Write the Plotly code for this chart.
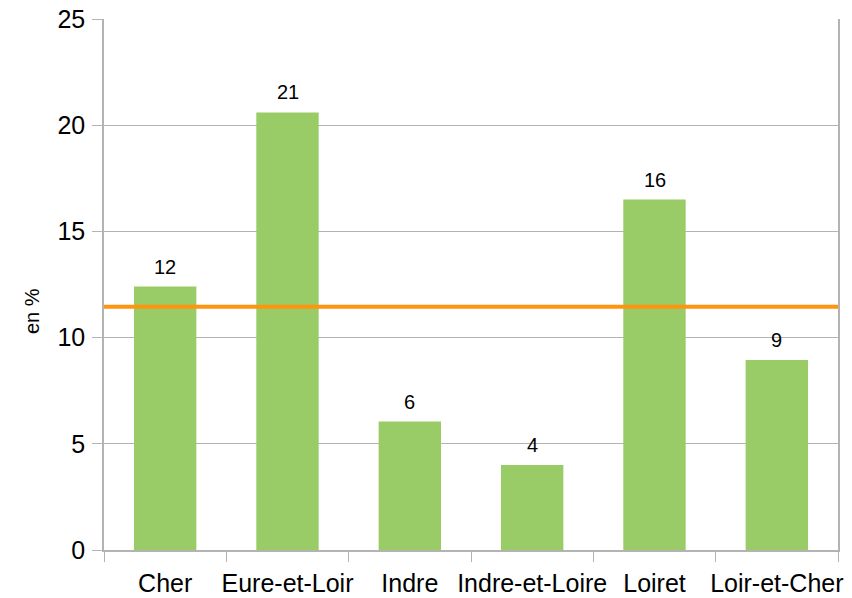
import plotly.graph_objects as go

categories = ["Cher", "Eure-et-Loir", "Indre", "Indre-et-Loire", "Loiret", "Loir-et-Cher"]
values = [12.4, 20.6, 6.05, 4.0, 16.5, 8.95]
labels = ["12", "21", "6", "4", "16", "9"]
reference_value = 11.45
y_ticks = [0, 5, 10, 15, 20, 25]
y_title = "en %"

fig = go.Figure()
fig.add_trace(go.Bar(
    x=categories, y=values,
    marker=dict(color="#99CC66", line=dict(width=0)),
    showlegend=False, hoverinfo="skip",
))
for c, v, t in zip(categories, values, labels):
    fig.add_annotation(x=c, y=v, text=t, showarrow=False, yanchor="bottom",
                       yshift=7, font=dict(size=20, color="black", family="Liberation Sans"))

fig.add_annotation(xref="paper", yref="paper", x=0, y=0.45, xshift=-72,
                   text=y_title, textangle=-90, showarrow=False,
                   xanchor="center", yanchor="middle",
                   font=dict(size=20, color="black", family="Liberation Sans"))

fig.add_shape(type="line", xref="paper", x0=0, x1=1, yref="y",
              y0=reference_value, y1=reference_value,
              line=dict(color="#FF950E", width=4), layer="above")

fig.update_layout(
    width=852, height=598,
    margin=dict(l=104, r=14, t=19, b=48),
    paper_bgcolor="white", plot_bgcolor="white",
    bargap=0.49,
    font=dict(family="Liberation Sans", color="black"),
    xaxis=dict(
        showgrid=False, showline=True, linecolor="#B3B3B3", linewidth=1.5,
        ticks="outside", tickson="boundaries", ticklen=10, tickcolor="#B3B3B3",
        tickfont=dict(size=25), tickangle=0, automargin=False, ticklabelstandoff=10,
        ticklabeloverflow="allow",
    ),
    yaxis=dict(
        range=[0, 25], tickvals=y_ticks, showgrid=True, gridcolor="#B3B3B3",
        gridwidth=1, showline=True, linecolor="#B3B3B3", linewidth=1.5, mirror=True,
        ticks="outside", ticklen=10, tickcolor="#B3B3B3",
        tickfont=dict(size=25), zeroline=False, automargin=False, ticklabelstandoff=2,
        ticklabeloverflow="allow",
    ),
)
fig.write_html("out.html", config={"displayModeBar": False},
               post_script="document.body.style.margin='0';")
